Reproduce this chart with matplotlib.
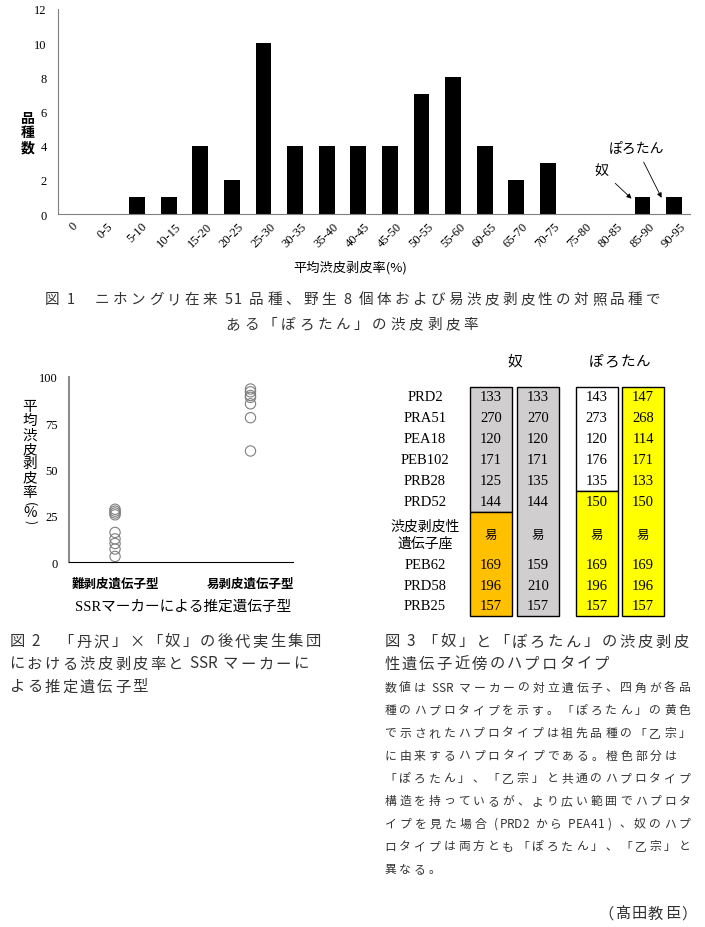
import numpy as np
import matplotlib
matplotlib.use("Agg")
import matplotlib.pyplot as plt
from matplotlib.patches import Rectangle

# %%
# Fig.1: histogram of peeling rate classes
bins = ["0", "0-5", "5-10", "10-15", "15-20", "20-25", "25-30", "30-35",
        "35-40", "40-45", "45-50", "50-55", "55-60", "60-65", "65-70",
        "70-75", "75-80", "80-85", "85-90", "90-95"]
counts = [0, 0, 1, 1, 4, 2, 10, 4, 4, 4, 4, 7, 8, 4, 2, 3, 0, 0, 1, 1]
nu_bin = "85-90"
porotan_bin = "90-95"

# Fig.2: progeny peeling rate by estimated genotype
genotypes = ["難剥皮遺伝子型", "易剥皮遺伝子型"]
hard_rates = [28.5, 27.5, 26.5, 25.5, 16, 12.5, 10, 7, 3]
easy_rates = [93.5, 92, 90, 89, 85.5, 78, 60]

# Fig.3: haplotypes
markers = ["PRD2", "PRA51", "PEA18", "PEB102", "PRB28", "PRD52",
           "渋皮剥皮性\n遺伝子座", "PEB62", "PRD58", "PRB25"]
nu_hap1 = ["133", "270", "120", "171", "125", "144", "易", "169", "196", "157"]
nu_hap2 = ["133", "270", "120", "171", "135", "144", "易", "159", "210", "157"]
poro_hap1 = ["143", "273", "120", "176", "135", "150", "易", "169", "196", "157"]
poro_hap2 = ["147", "268", "114", "171", "133", "150", "易", "169", "196", "157"]

# %%
W, H = 705, 928
JP = ["Noto Sans CJK JP", "DejaVu Sans"]
SERIF = ["Liberation Serif", "Noto Sans CJK JP"]
CAP = "#333333"

fig = plt.figure(figsize=(W / 100, H / 100), dpi=100)


def frac(x0, y0, x1, y1):
    return [x0 / W, 1 - y1 / H, (x1 - x0) / W, (y1 - y0) / H]


def char_units(c):
    if c == " ":
        return 0.3
    return 0.5 if ord(c) < 0x80 else 1.0


def spaced(x, y, s, pitch=17.5, size=11, end=None, ha="left", color=CAP):
    # mimic the wide letter spacing of the printed captions
    units = [char_units(c) for c in s]
    total = sum(units)
    if end is not None:
        pitch = (end - x) / total
    if ha == "center":
        x = x - total * pitch / 2
    elif ha == "right":
        x = x - total * pitch
    pos = x
    for c, u in zip(s, units):
        if c.strip():
            fig.text((pos + u * pitch / 2) / W, 1 - y / H, c, ha="center",
                     va="center", fontsize=size, family=JP, color=color)
        pos += u * pitch


def vertical(x, y, s, size=10, step=14.3, small_step=9, **kw):
    # stacked vertical label; half-width chars take less room
    pos = y
    for i, c in enumerate(s):
        wide = ord(c) > 0x2000
        if i > 0:
            prev_wide = ord(s[i - 1]) > 0x2000
            if wide and prev_wide:
                pos += step
            elif wide != prev_wide:
                pos += small_step + 2.5
            else:
                pos += small_step
        rot = -90 if c in "()" else 0
        fs = size * 0.85 if c in "()" else size
        fig.text(x / W, 1 - pos / H, c, ha="center", va="center",
                 fontsize=fs, family=JP, rotation=rot, **kw)


# %%
# Fig.1
ax1 = fig.add_axes(frac(58, 10, 690, 215))
x = np.arange(len(bins))
ax1.bar(x, counts, width=0.5, color="black")
ax1.set_xlim(-0.5, len(bins) - 0.5)
ax1.set_ylim(0, 12)
ax1.set_yticks(range(0, 13, 2))
ax1.set_xticks(x)
ax1.set_xticklabels(bins, rotation=45, ha="center", va="top")
ax1.tick_params(length=0, labelsize=9)
ax1.tick_params(axis="y", pad=8)
ax1.tick_params(axis="x", pad=4)
for lab in ax1.get_xticklabels() + ax1.get_yticklabels():
    lab.set_family(SERIF)
for s in ["top", "right"]:
    ax1.spines[s].set_visible(False)
ax1.spines["left"].set_color("#808080")
ax1.spines["bottom"].set_color("#808080")

i_nu = bins.index(nu_bin)
i_po = bins.index(porotan_bin)
arrow = dict(arrowstyle="-|>", color="black", lw=0.6, mutation_scale=7,
             shrinkA=4, shrinkB=0)
ax1.annotate("奴", xy=(i_nu - 0.35, counts[i_nu] - 0.1),
             xytext=(i_nu - 1.3, counts[i_nu] + 1.55), fontsize=10,
             family=JP, ha="center", va="center", arrowprops=arrow)
ax1.annotate("ぽろたん", xy=(i_po - 0.4, counts[i_po] - 0.05),
             xytext=(i_po - 1.2, counts[i_po] + 2.9), fontsize=10,
             family=JP, ha="center", va="center", arrowprops=arrow)

vertical(28, 119, "品種数", size=10, step=14.5, weight="bold")
fig.text(350 / W, 1 - 268 / H, "平均渋皮剥皮率(%)", ha="center", va="center",
         fontsize=9.5, family=JP)

spaced(43, 300, "図 1　ニホングリ在来 51 品種、野生 8 個体および易渋皮剥皮性の対照品種で",
       size=10.5, end=662)
spaced(352, 325, "ある「ぽろたん」の渋皮剥皮率", pitch=18.3, size=10.5, ha="center")

# %%
# Fig.2
ax2 = fig.add_axes(frac(69, 378, 293, 563))
ax2.scatter(np.ones(len(hard_rates)), hard_rates, s=55, facecolor="none",
            edgecolor="#7f7f7f", lw=0.8, clip_on=False)
ax2.scatter(np.full(len(easy_rates), 2), easy_rates, s=55, facecolor="none",
            edgecolor="#7f7f7f", lw=0.8, clip_on=False)
ax2.set_xlim(0.66, 2.314)
ax2.set_ylim(0, 100)
ax2.set_yticks([0, 25, 50, 75, 100])
ax2.set_xticks([1, 2])
ax2.set_xticklabels(genotypes, family=JP, fontsize=9.5, weight="bold")
ax2.tick_params(length=0, labelsize=9)
ax2.tick_params(axis="y", pad=8)
ax2.tick_params(axis="x", pad=11)
for lab in ax2.get_yticklabels():
    lab.set_family(SERIF)
for s in ["top", "right"]:
    ax2.spines[s].set_visible(False)
ax2.spines["left"].set_color("#8c8c8c")
ax2.spines["left"].set_linewidth(1.5)
ax2.spines["bottom"].set_color("black")

vertical(30, 407, "平均渋皮剥皮率(%)", size=10.5)
fig.text(183 / W, 1 - 607 / H, "SSRマーカーによる推定遺伝子型", ha="center",
         va="center", fontsize=10.5, family=SERIF)

spaced(8, 642, "図 2　「丹沢」×「奴」の後代実生集団", end=322)
spaced(8, 664, "における渋皮剥皮率と SSR マーカーに", end=310)
spaced(8, 687, "よる推定遺伝子型", pitch=17.6)

# %%
# Fig.3 table
ov = fig.add_axes([0, 0, 1, 1])
ov.set_xlim(0, W)
ov.set_ylim(H, 0)
ov.axis("off")

columns = [nu_hap1, nu_hap2, poro_hap1, poro_hap2]
col_x = [491, 538, 596.5, 643]
half_w = 21
row_top, row_h = 398, 20.9
row_pos = [0, 1, 2, 3, 4, 5, 6.6, 8, 9, 10]
# (first row, last row, fill) for each boxed block
blocks = [[(0, 5, "#d0cece"), (6, 9, "#ffc000")],
          [(0, 9, "#d0cece")],
          [(0, 4, "white"), (5, 9, "#ffff00")],
          [(0, 9, "#ffff00")]]


def row_y(r):
    return row_top + r * row_h


for cx, col, blk in zip(col_x, columns, blocks):
    for a, b, fc in blk:
        top = row_y(row_pos[a - 1] + 0.5) if a > 0 else row_y(-0.5)
        bot = row_y(row_pos[b] + 0.5)
        ov.add_patch(Rectangle((cx - half_w, top), 2 * half_w, bot - top,
                               facecolor=fc, edgecolor="black", lw=1.0))
    for r, v in zip(row_pos, col):
        if v.isdigit():
            ov.text(cx, row_y(r), v, ha="center", va="center", fontsize=10.5,
                    family=SERIF)
        else:
            ov.text(cx, row_y(r), v, ha="center", va="center", fontsize=9,
                    family=JP)

for r, m in zip(row_pos, markers):
    if "\n" in m:
        ov.text(425, row_y(r) - 1, m, ha="center", va="center", fontsize=10,
                family=JP, linespacing=1.25)
    else:
        ov.text(425, row_y(r), m, ha="center", va="center", fontsize=10.5,
                family=SERIF)

spaced((col_x[0] + col_x[1]) / 2, 362, "奴", size=10.5, ha="center", color="black")
spaced((col_x[2] + col_x[3]) / 2, 362, "ぽろたん", pitch=15.8, size=10.5,
       ha="center", color="black")

spaced(383, 642, "図 3 「奴」と「ぽろたん」の渋皮剥皮", end=690)
spaced(383, 664, "性遺伝子近傍のハプロタイプ", pitch=17.5)

notes = ["数値は SSR マーカーの対立遺伝子、四角が各品",
         "種のハプロタイプを示す。「ぽろたん」の黄色",
         "で示されたハプロタイプは祖先品種の「乙宗」",
         "に由来するハプロタイプである。橙色部分は",
         "「ぽろたん」、「乙宗」と共通のハプロタイプ",
         "構造を持っているが、より広い範囲でハプロタ",
         "イプを見た場合 (PRD2 から PEA41) 、奴のハプ",
         "ロタイプは両方とも「ぽろたん」、「乙宗」と",
         "異なる。"]
note_ends = [692, 692, 692, 678, 692, 692, 692, 692, None]
for k, (line, e) in enumerate(zip(notes, note_ends)):
    spaced(383, 688 + k * 22.7, line, pitch=14.7, size=8.5, end=e)

spaced(697, 914, "（髙田教臣）", pitch=16.5, size=11, ha="right")

fig.savefig("out.png", dpi=100)
